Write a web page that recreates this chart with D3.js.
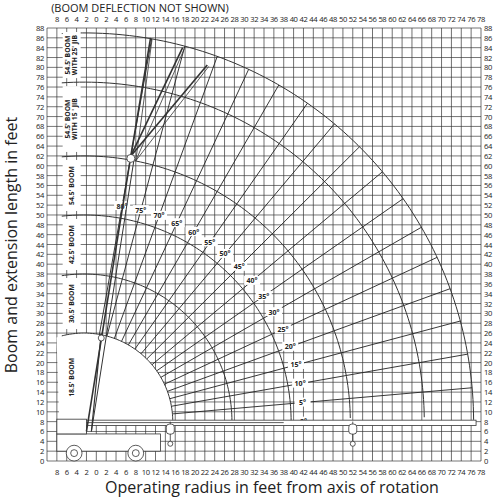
<!DOCTYPE html>
<meta charset="utf-8">
<style>
body { margin: 0; background: #fff; }
text { font-family: "Open Sans", sans-serif; fill: #222; }
.tick { font-size: 7.6px; letter-spacing: -0.4px; }
.ang { font-size: 7px; font-weight: bold; }
.blab { font-size: 6.8px; font-weight: bold; }
</style>
<script src="https://cdn.jsdelivr.net/npm/d3@7"></script>
<body>
<script>

var width = 500,
    height = 498;

// data
var xTicks = d3.range(-8, 79, 2);
var yTicks = d3.range(0, 89, 2);
var boomLengths = [26, 38, 50, 62, 77, 87];      // arc tops (ft)
var boomNames = [["18.5' BOOM"], ["30.5' BOOM"], ["42.5' BOOM"], ["54.5' BOOM"],
                 ["54.5' BOOM", "WITH 15 ' JIB"], ["54.5' BOOM", "WITH 25' JIB"]];
var boomBands = [[8, 26], [26, 38], [38, 50], [50, 62], [62, 77], [77, 88]];
var angleLabels = d3.range(0, 81, 5);
var angleLines = d3.range(0, 81, 5);
var jibTips = [[11, 86], [17.5, 84], [22.5, 80.5]];
var hooks = [15, 52];

var pivot = [-2.5, 8];
var innerR = 18;

var x = d3.scaleLinear().domain([-10, 78]).range([47, 481]);
var y = d3.scaleLinear().domain([0, 88]).range([461, 28]);
var k = x(1) - x(0);

var svg = d3.select("body").append("svg")
    .attr("width", width).attr("height", height);

// grid
svg.append("g").selectAll("line").data(yTicks).enter().append("line")
    .attr("x1", x(-10)).attr("x2", x(78))
    .attr("y1", function (d) { return y(d); }).attr("y2", function (d) { return y(d); })
    .attr("stroke", "#777").attr("stroke-width", 1);
svg.append("g").selectAll("line").data(d3.range(-10, 79, 2)).enter().append("line")
    .attr("y1", y(0)).attr("y2", y(88))
    .attr("x1", function (d) { return x(d); }).attr("x2", function (d) { return x(d); })
    .attr("stroke", "#333").attr("stroke-width", 0.7);

// white area inside the smallest arc
var arcPath = function (r, a0) {
  var pts = d3.range(a0, -0.01, -1).map(function (a) {
    var t = a * Math.PI / 180;
    return [x(pivot[0] + r * Math.cos(t)), y(pivot[1] + r * Math.sin(t))];
  });
  return d3.line()(pts);
};
svg.append("path")
    .attr("d", arcPath(innerR, 108) + "L" + x(pivot[0] - 5) + "," + y(8) + "Z")
    .attr("fill", "#fff");

// radial angle lines
var outerR = boomLengths[5] - pivot[1];
svg.append("g").selectAll("line").data(angleLines).enter().append("line")
    .attr("x1", function (a) { return x(pivot[0] + innerR * Math.cos(a * Math.PI / 180)); })
    .attr("y1", function (a) { return y(pivot[1] + innerR * Math.sin(a * Math.PI / 180)); })
    .attr("x2", function (a) { return x(pivot[0] + outerR * Math.cos(a * Math.PI / 180)); })
    .attr("y2", function (a) { return y(pivot[1] + outerR * Math.sin(a * Math.PI / 180)); })
    .attr("stroke", "#222").attr("stroke-width", 0.9);

// boom arcs
svg.append("g").selectAll("path").data(boomLengths).enter().append("path")
    .attr("d", function (d) {
      var r = d - pivot[1];
      var a0 = Math.acos((-7 - pivot[0]) / r) * 180 / Math.PI;
      return arcPath(r, a0);
    })
    .attr("fill", "none").attr("stroke", "#333").attr("stroke-width", 1);

// angle labels
var lab = svg.append("g").selectAll("g").data(angleLabels).enter().append("g")
    .attr("transform", function (a) {
      var t = a * Math.PI / 180;
      return "translate(" + x(pivot[0] + 44.5 * Math.cos(t)) + "," + y(pivot[1] + 44.5 * Math.sin(t)) + ")";
    });
lab.append("rect").attr("x", -8).attr("y", -5).attr("width", 16).attr("height", 9).attr("fill", "#fff");
lab.append("text").attr("class", "ang").attr("text-anchor", "middle").attr("dy", 2.5)
    .text(function (a) { return a + "\u00b0"; });

// boom labels
var bl = svg.append("g").selectAll("g").data(boomBands).enter().append("g")
    .attr("transform", function (d, i) {
      return "translate(" + x(-5) + "," + y((d[0] + d[1]) / 2) + ") rotate(-90)";
    });
bl.append("rect")
    .attr("x", function (d) { return -(y(d[0]) - y(d[1])) / 2 + 4; })
    .attr("width", function (d) { return y(d[0]) - y(d[1]) - 8; })
    .attr("y", -9).attr("height", 18).attr("fill", "#fff");
bl.each(function (d, i) {
  var n = boomNames[i];
  d3.select(this).selectAll("text").data(n).enter().append("text")
      .attr("class", "blab").attr("text-anchor", "middle")
      .attr("y", function (s, j) { return n.length == 1 ? 2.5 : -1.5 + j * 7; })
      .text(function (s) { return s; });
});

// crane
var crane = svg.append("g").attr("stroke", "#333").attr("fill", "#fff").attr("stroke-width", 0.8);
// horizontal boom
crane.append("rect").attr("x", x(-3)).attr("y", y(8.3)).attr("width", x(77) - x(-3)).attr("height", y(7.2) - y(8.3));
crane.append("line").attr("x1", x(-3)).attr("x2", x(38)).attr("y1", y(7.8)).attr("y2", y(7.8));
// hooks
hooks.forEach(function (h) {
  crane.append("line").attr("x1", x(h)).attr("x2", x(h)).attr("y1", y(8)).attr("y2", y(3.5));
  crane.append("rect").attr("x", x(h) - 4).attr("y", y(7.5)).attr("width", 8).attr("height", 10).attr("rx", 3);
  crane.append("circle").attr("cx", x(h)).attr("cy", y(3.5)).attr("r", 2.5);
});
// truck
crane.append("rect").attr("x", x(-8)).attr("y", y(5.5)).attr("width", x(13) - x(-8)).attr("height", y(2) - y(5.5));
crane.append("rect").attr("x", x(-8)).attr("y", y(8.5)).attr("width", x(-2) - x(-8)).attr("height", y(5.5) - y(8.5));
[-4.5, 8].forEach(function (w) {
  crane.append("circle").attr("cx", x(w)).attr("cy", y(1.6)).attr("r", 1.6 * k);
  crane.append("circle").attr("cx", x(w)).attr("cy", y(1.6)).attr("r", 0.7 * k);
});
// raised booms
var base = [-2, 6];
crane.append("line").attr("x1", x(base[0])).attr("y1", y(base[1])).attr("x2", x(7)).attr("y2", y(62)).attr("stroke-width", 1.6);
crane.append("line").attr("x1", x(base[0] + 1)).attr("y1", y(base[1])).attr("x2", x(7.6)).attr("y2", y(61)).attr("stroke-width", 1);
crane.append("line").attr("x1", x(-1)).attr("y1", y(6)).attr("x2", x(1)).attr("y2", y(26)).attr("stroke-width", 1.2);
jibTips.forEach(function (t) {
  crane.append("line").attr("x1", x(7)).attr("y1", y(62)).attr("x2", x(t[0])).attr("y2", y(t[1])).attr("stroke-width", 1.6);
  crane.append("line").attr("x1", x(8)).attr("y1", y(61)).attr("x2", x(t[0] + 0.3)).attr("y2", y(t[1] - 0.3)).attr("stroke-width", 0.8);
});
crane.append("circle").attr("cx", x(7)).attr("cy", y(61.5)).attr("r", 4);
crane.append("circle").attr("cx", x(1)).attr("cy", y(25)).attr("r", 3);

// tick labels
var tx = svg.append("g").attr("class", "tick").attr("text-anchor", "middle");
[22, 475].forEach(function (py) {
  tx.selectAll(null).data(xTicks).enter().append("text")
      .attr("x", function (d) { return x(d); }).attr("y", py)
      .text(function (d) { return Math.abs(d); });
});
svg.append("g").attr("class", "tick").attr("text-anchor", "end").selectAll("text").data(yTicks).enter().append("text")
    .attr("x", 44).attr("y", function (d) { return y(d) + 3; }).text(function (d) { return d; });
svg.append("g").attr("class", "tick").attr("text-anchor", "start").selectAll("text").data(yTicks).enter().append("text")
    .attr("x", 484).attr("y", function (d) { return y(d) + 3; }).text(function (d) { return d; });

// titles
svg.append("text").attr("x", 140).attr("y", 12).attr("text-anchor", "middle")
    .attr("font-size", "11px").text("(BOOM DEFLECTION NOT SHOWN)");
svg.append("text").attr("transform", "translate(17,245) rotate(-90)").attr("text-anchor", "middle")
    .attr("font-size", "16px").text("Boom and extension length in feet");
svg.append("text").attr("x", 272).attr("y", 493).attr("text-anchor", "middle")
    .attr("font-size", "16px").text("Operating radius in feet from axis of rotation");

</script>
</body>
